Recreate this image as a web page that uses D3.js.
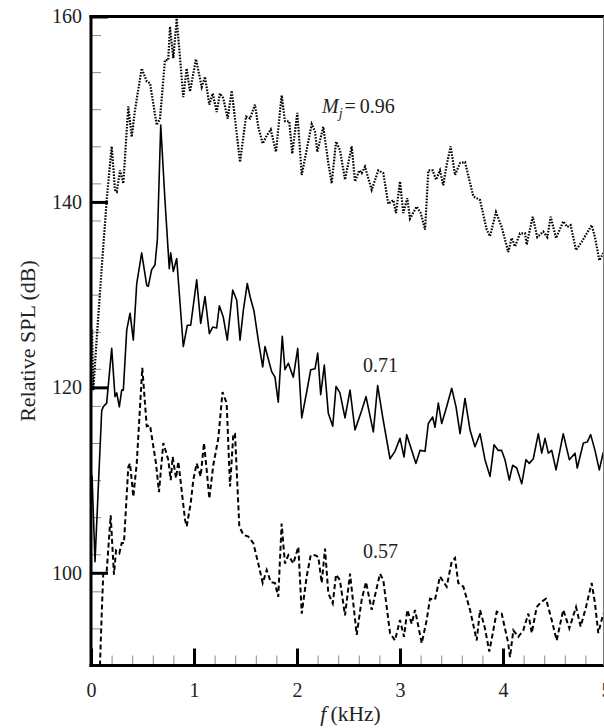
<!DOCTYPE html>
<html>
<head>
<meta charset="utf-8">
<script src="https://cdn.jsdelivr.net/npm/d3@7"></script>
<style>
  html, body { margin: 0; padding: 0; background: #fff; }
  svg { display: block; }
</style>
</head>
<body>
<svg id="chart" width="604" height="728"></svg>
<script>
// Axis ticks
const xMajorTicks = [0, 1, 2, 3, 4, 5];
const yMajorTicks = [100, 120, 140, 160];

// Spectra: [frequency (kHz), relative SPL (dB)]
const machLabels = ["0.96", "0.71", "0.57"];

const spl096 = [
  [0.010,126.2],[0.022,119.7],[0.068,127.3],[0.117,134.8],[0.152,140.2],[0.201,146.0],
  [0.233,141.3],[0.250,141.1],[0.282,143.4],[0.314,142.0],[0.362,150.3],[0.395,147.0],
  [0.427,149.9],[0.492,154.4],[0.541,153.0],[0.573,152.8],[0.638,148.3],[0.670,149.0],
  [0.718,155.3],[0.750,155.3],[0.767,158.9],[0.799,155.5],[0.832,159.8],[0.896,151.3],
  [0.929,154.4],[0.961,151.9],[1.019,155.4],[1.075,152.4],[1.107,153.5],[1.149,150.5],
  [1.182,151.7],[1.220,149.7],[1.252,151.7],[1.284,151.2],[1.327,149.0],[1.366,152.0],
  [1.447,144.3],[1.505,149.2],[1.544,149.0],[1.592,150.5],[1.624,148.1],[1.667,146.3],
  [1.699,147.0],[1.745,147.8],[1.796,145.4],[1.851,151.5],[1.883,148.7],[1.925,148.7],
  [1.954,145.2],[2.003,149.6],[2.046,142.9],[2.143,148.4],[2.175,147.6],[2.197,145.4],
  [2.255,148.1],[2.304,144.2],[2.337,142.0],[2.379,146.5],[2.417,145.6],[2.466,142.4],
  [2.531,146.0],[2.563,142.2],[2.605,143.4],[2.628,143.1],[2.660,143.8],[2.725,141.3],
  [2.789,143.4],[2.838,143.1],[2.886,139.8],[2.935,140.2],[2.961,138.8],[3.000,142.2],
  [3.032,138.8],[3.071,140.4],[3.097,138.2],[3.162,139.5],[3.201,138.8],[3.243,137.0],
  [3.275,143.4],[3.317,143.4],[3.350,142.4],[3.388,143.4],[3.420,141.8],[3.453,144.0],
  [3.492,146.0],[3.534,142.9],[3.583,144.2],[3.631,144.3],[3.712,140.6],[3.777,140.2],
  [3.842,137.0],[3.874,136.3],[3.932,138.9],[3.987,137.3],[4.051,134.6],[4.084,136.1],
  [4.117,135.2],[4.165,136.6],[4.214,136.6],[4.230,135.4],[4.288,138.4],[4.333,136.2],
  [4.391,136.8],[4.430,136.2],[4.463,138.4],[4.515,136.1],[4.585,137.9],[4.624,137.3],
  [4.657,137.5],[4.709,134.8],[4.764,135.7],[4.813,136.6],[4.861,137.5],[4.893,136.2],
  [4.935,133.7],[4.974,134.5]
];

const spl071 = [
  [0.010,110.5],[0.039,101.2],[0.104,117.5],[0.119,117.9],[0.152,118.3],[0.201,124.2],
  [0.233,119.0],[0.250,119.4],[0.275,117.9],[0.298,119.7],[0.314,119.7],[0.347,126.2],
  [0.379,128.0],[0.411,125.1],[0.444,131.2],[0.492,134.5],[0.541,131.0],[0.556,130.9],
  [0.589,132.7],[0.621,133.2],[0.644,135.9],[0.677,148.3],[0.718,140.2],[0.760,132.8],
  [0.774,134.5],[0.799,132.5],[0.832,133.9],[0.896,124.4],[0.935,126.7],[0.968,126.7],
  [1.026,131.6],[1.065,126.9],[1.107,129.8],[1.149,125.8],[1.182,126.5],[1.220,126.4],
  [1.246,128.8],[1.284,127.6],[1.323,125.1],[1.376,130.5],[1.415,129.4],[1.447,125.1],
  [1.479,128.3],[1.517,131.2],[1.544,129.8],[1.583,128.2],[1.624,125.1],[1.667,122.2],
  [1.689,124.4],[1.754,121.7],[1.786,121.1],[1.818,118.4],[1.857,125.5],[1.883,121.9],
  [1.916,122.6],[1.964,121.1],[2.007,124.2],[2.046,116.7],[2.094,119.5],[2.133,121.9],
  [2.175,122.0],[2.201,123.7],[2.230,119.2],[2.265,122.4],[2.304,117.2],[2.347,115.8],
  [2.379,120.1],[2.417,119.4],[2.466,116.7],[2.515,119.7],[2.563,115.4],[2.628,117.5],
  [2.670,119.0],[2.741,115.2],[2.783,120.2],[2.832,116.8],[2.903,112.3],[2.951,113.1],
  [3.000,114.5],[3.039,112.5],[3.065,114.9],[3.114,113.2],[3.155,111.8],[3.194,113.2],
  [3.243,113.1],[3.275,116.1],[3.317,116.8],[3.340,115.7],[3.372,118.3],[3.405,116.1],
  [3.453,117.9],[3.502,119.9],[3.544,117.9],[3.583,115.0],[3.631,118.8],[3.680,115.4],
  [3.728,113.6],[3.777,115.0],[3.825,112.2],[3.874,110.4],[3.913,113.8],[3.954,113.2],
  [3.987,113.2],[4.019,112.2],[4.061,110.0],[4.094,111.6],[4.133,111.3],[4.182,109.6],
  [4.223,112.2],[4.255,111.8],[4.294,112.3],[4.343,115.0],[4.376,112.9],[4.408,114.5],
  [4.440,112.9],[4.473,113.2],[4.515,111.1],[4.585,115.0],[4.644,112.2],[4.699,112.9],
  [4.721,111.3],[4.780,114.0],[4.818,114.1],[4.851,114.9],[4.893,113.2],[4.935,111.1],
  [4.974,113.0]
];

const spl057 = [
  [0.087,90.0],[0.104,95.6],[0.119,99.9],[0.152,100.1],[0.191,106.2],[0.223,99.8],
  [0.243,102.4],[0.275,102.1],[0.298,103.2],[0.320,103.2],[0.362,111.4],[0.379,111.8],
  [0.411,108.2],[0.444,111.8],[0.498,122.1],[0.541,115.8],[0.573,115.9],[0.631,111.8],
  [0.660,108.7],[0.702,114.0],[0.750,112.2],[0.774,110.0],[0.793,112.5],[0.825,110.2],
  [0.848,112.0],[0.913,105.7],[0.929,105.0],[0.968,107.5],[0.993,110.0],[1.026,111.8],
  [1.065,110.4],[1.097,114.0],[1.123,111.1],[1.149,108.0],[1.187,111.6],[1.236,114.5],
  [1.277,119.5],[1.317,118.3],[1.350,109.3],[1.382,115.0],[1.398,115.0],[1.440,105.0],
  [1.479,104.1],[1.527,103.9],[1.576,103.2],[1.624,101.0],[1.667,98.9],[1.706,100.3],
  [1.745,99.0],[1.786,98.9],[1.818,97.4],[1.851,105.3],[1.883,101.0],[1.916,101.9],
  [1.964,101.0],[2.013,102.8],[2.046,95.6],[2.094,99.6],[2.133,101.9],[2.175,101.9],
  [2.207,101.7],[2.240,98.9],[2.272,102.6],[2.304,97.8],[2.347,96.7],[2.379,99.8],
  [2.417,99.2],[2.466,95.4],[2.515,99.9],[2.580,93.3],[2.628,97.1],[2.670,99.0],
  [2.725,96.0],[2.806,99.9],[2.838,99.2],[2.903,93.5],[2.951,92.7],[3.000,94.9],
  [3.039,93.1],[3.071,96.0],[3.114,94.5],[3.146,96.0],[3.211,92.4],[3.259,94.9],
  [3.291,97.2],[3.340,97.1],[3.388,99.6],[3.453,98.5],[3.502,101.2],[3.534,101.6],
  [3.566,98.9],[3.615,98.5],[3.680,96.0],[3.745,92.7],[3.777,96.0],[3.825,94.0],
  [3.867,91.5],[3.906,93.8],[3.939,95.8],[3.987,95.6],[4.019,94.0],[4.051,92.4],
  [4.068,90.9],[4.100,93.8],[4.149,93.1],[4.197,93.8],[4.246,95.6],[4.279,93.5],
  [4.327,96.3],[4.376,96.9],[4.417,97.2],[4.473,94.9],[4.521,92.7],[4.585,96.0],
  [4.644,94.0],[4.709,96.3],[4.754,94.2],[4.806,96.3],[4.861,98.9],[4.893,96.7],
  [4.925,93.5],[4.974,95.6]
];

const W = 604, H = 728;
const FONT = "'Liberation Serif','Times New Roman',Times,serif";

const x = d3.scaleLinear().domain([0, 5]).range([91, 606]);
const y = d3.scaleLinear().domain([90, 160]).range([665.5, 16.5]);

const svg = d3.select("#chart");

// clip region for the curves
svg.append("defs").append("clipPath").attr("id", "plotClip")
  .append("rect")
  .attr("x", x(0)).attr("y", y(160))
  .attr("width", W - x(0)).attr("height", y(90) - y(160));

// minor ticks
const xMinor = d3.range(0, 26).map(i => i * 0.2).filter(v => Math.abs(v - Math.round(v)) > 1e-6);
const yMinor = d3.range(90, 161, 4).filter(v => !yMajorTicks.includes(v));

const gxMinor = svg.append("g")
  .attr("transform", `translate(0,${y(90)})`)
  .call(d3.axisBottom(x).tickValues(xMinor).tickSizeInner(-10).tickSizeOuter(0).tickFormat(""));
const gyMinor = svg.append("g")
  .attr("transform", `translate(${x(0)},0)`)
  .call(d3.axisLeft(y).tickValues(yMinor).tickSizeInner(-10).tickSizeOuter(0).tickFormat(""));
[gxMinor, gyMinor].forEach(g => {
  g.select(".domain").remove();
  g.selectAll(".tick line").attr("stroke", "#8a8a8a").attr("stroke-width", 1);
});

// curves
const line = d3.line().x(d => x(d[0])).y(d => y(d[1])).curve(d3.curveLinear);
const curves = svg.append("g").attr("clip-path", "url(#plotClip)");

curves.append("path").datum(spl096)
  .attr("d", line).attr("fill", "none").attr("stroke", "#000")
  .attr("stroke-width", 2.2).attr("stroke-dasharray", "1.6,1.4");
curves.append("path").datum(spl071)
  .attr("d", line).attr("fill", "none").attr("stroke", "#000")
  .attr("stroke-width", 1.6).attr("stroke-linejoin", "round");
curves.append("path").datum(spl057)
  .attr("d", line).attr("fill", "none").attr("stroke", "#000")
  .attr("stroke-width", 2).attr("stroke-dasharray", "5,3");

// major ticks and labels
const gx = svg.append("g")
  .attr("transform", `translate(0,${y(90)})`)
  .call(d3.axisBottom(x).tickValues(xMajorTicks).tickSizeInner(-17).tickSizeOuter(0)
        .tickPadding(17.5).tickFormat(d3.format("d")));
const gy = svg.append("g")
  .attr("transform", `translate(${x(0)},0)`)
  .call(d3.axisLeft(y).tickValues(yMajorTicks).tickSizeInner(-17).tickSizeOuter(0)
        .tickPadding(9).tickFormat(d3.format("d")));
[gx, gy].forEach(g => {
  g.select(".domain").remove();
  g.selectAll(".tick line").attr("stroke", "#000").attr("stroke-width", 3);
  g.selectAll(".tick text").attr("fill", "#222").attr("font-family", FONT).attr("font-size", 20);
});

// frame
const frame = svg.append("g").attr("stroke", "#000").attr("stroke-width", 3);
frame.append("line").attr("x1", x(0)).attr("x2", x(0)).attr("y1", y(160) - 1.5).attr("y2", y(90) + 1.5);
frame.append("line").attr("x1", x(0) - 1.5).attr("x2", W).attr("y1", y(90)).attr("y2", y(90));
frame.append("line").attr("x1", x(0) - 1.5).attr("x2", W).attr("y1", y(160)).attr("y2", y(160));
svg.append("line").attr("x1", W - 0.5).attr("x2", W - 0.5).attr("y1", y(160)).attr("y2", y(90))
  .attr("stroke", "#777").attr("stroke-width", 1);

// Mach number annotations
const annot = svg.append("g").attr("font-family", FONT).attr("font-size", 20).attr("fill", "#222");
const mText = annot.append("text").attr("x", x(2.243)).attr("y", y(149.6));
mText.append("tspan").attr("font-style", "italic").text("M");
mText.append("tspan").attr("font-style", "italic").attr("font-size", 14).attr("dy", 5).text("j");
mText.append("tspan").attr("dy", -5).attr("dx", 2).text("=\u2009" + machLabels[0]);
annot.append("text").attr("x", x(2.641)).attr("y", y(121.7)).text(machLabels[1]);
annot.append("text").attr("x", x(2.641)).attr("y", y(101.6)).text(machLabels[2]);

// axis titles
const xt = svg.append("text")
  .attr("x", (x(0) + W) / 2 + 3).attr("y", 721)
  .attr("text-anchor", "middle").attr("font-family", FONT).attr("font-size", 21.5).attr("fill", "#222");
xt.append("tspan").attr("font-style", "italic").text("f");
xt.append("tspan").text("\u2009(kHz)");

svg.append("text")
  .attr("transform", `translate(35,${(y(90) + y(160)) / 2}) rotate(-90)`)
  .attr("text-anchor", "middle").attr("font-family", FONT).attr("font-size", 22).attr("fill", "#222")
  .text("Relative SPL (dB)");
</script>
</body>
</html>
